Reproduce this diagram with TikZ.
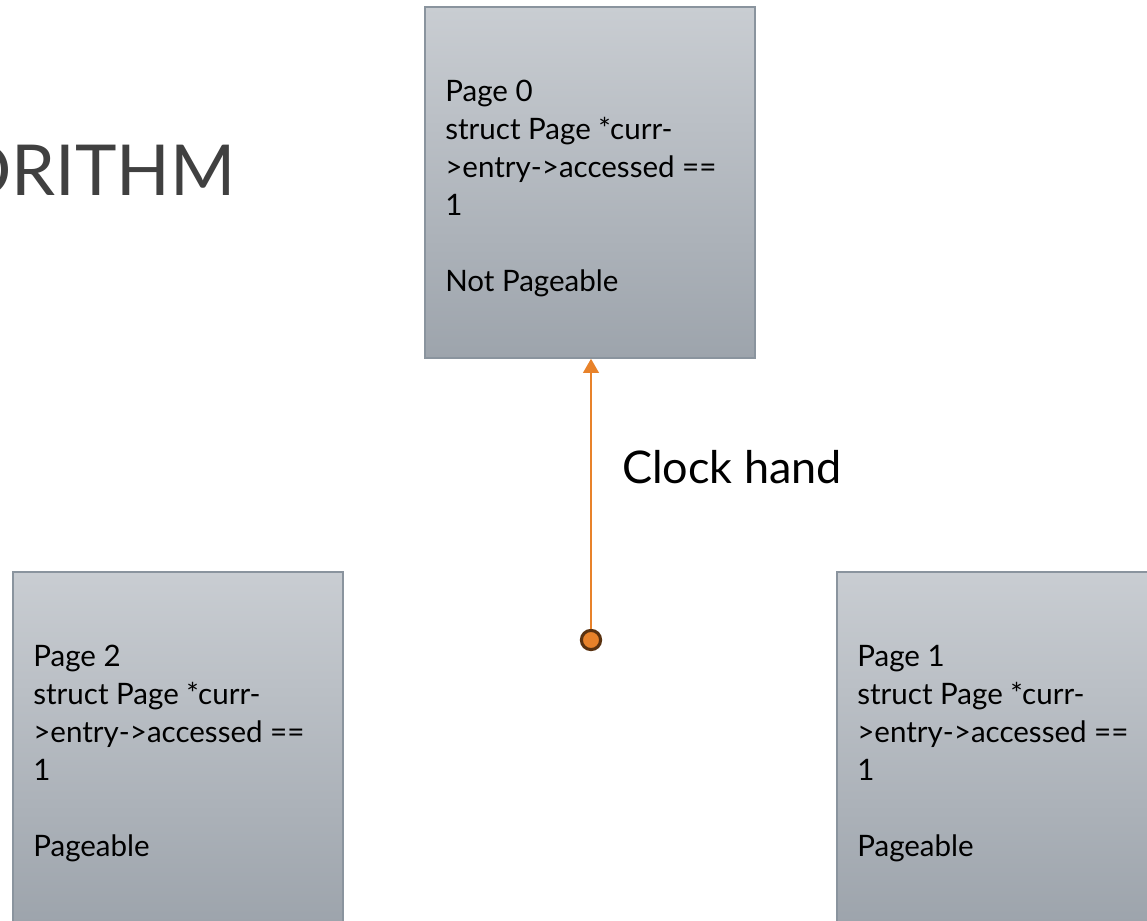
\documentclass[tikz,border=0pt]{standalone}
\usepackage{fontspec}
\setmainfont{Lato}
\usetikzlibrary{arrows.meta}
\definecolor{boxtop}{HTML}{C9CDD2}
\definecolor{boxbot}{HTML}{9DA4AC}
\definecolor{boxline}{HTML}{8A949E}
\definecolor{handorange}{HTML}{E8822A}
\definecolor{hubbrown}{HTML}{5A3210}
\definecolor{titlegray}{HTML}{404040}
\tikzset{
  pagebox/.style={rectangle, draw=boxline, line width=1pt, top color=boxtop, bottom color=boxbot,
    minimum width=8.25cm, minimum height=8.775cm, inner sep=0pt},
  pagetext/.style={anchor=north west, align=left, inner sep=0pt, text=black,
    font=\fontsize{21}{27}\selectfont},
  handarrow/.style={draw=handorange, line width=1.6pt, -{Triangle[width=11pt,length=10pt]}},
  hubdot/.style={circle, draw=hubbrown, fill=handorange, line width=2.2pt, minimum size=0.48cm, inner sep=0pt},
}
\begin{document}
\begin{tikzpicture}[x=0.025cm, y=-0.025cm]
\useasboundingbox (0,0) rectangle (1147,921);
\fill[white] (0,0) rectangle (1147,921);
\node[anchor=base east, text=titlegray, inner sep=0pt, font=\fontsize{50}{60}\selectfont] (title) at (236,195) {ORITHM};
\node[pagebox] (p0) at (590,182.5) {};
\node[pagebox] (p2) at (178,747.5) {};
\node[pagebox] (p1) at (1002,747.5) {};
\node[pagetext] (t0) at (445,80) {Page 0\\struct Page *curr-\\>entry->accessed ==\\1\\[27pt]Not Pageable};
\node[pagetext] (t2) at (33,645) {Page 2\\struct Page *curr-\\>entry->accessed ==\\1\\[27pt]Pageable};
\node[pagetext] (t1) at (857,645) {Page 1\\struct Page *curr-\\>entry->accessed ==\\1\\[27pt]Pageable};
\node[hubdot] (hub) at (591,640) {};
\draw[handarrow] (hub.north) -- (hub.north |- p0.south);
\node[anchor=base west, inner sep=0pt, font=\fontsize{32}{38}\selectfont] (lbl) at (622,483) {Clock hand};
\end{tikzpicture}
\end{document}
